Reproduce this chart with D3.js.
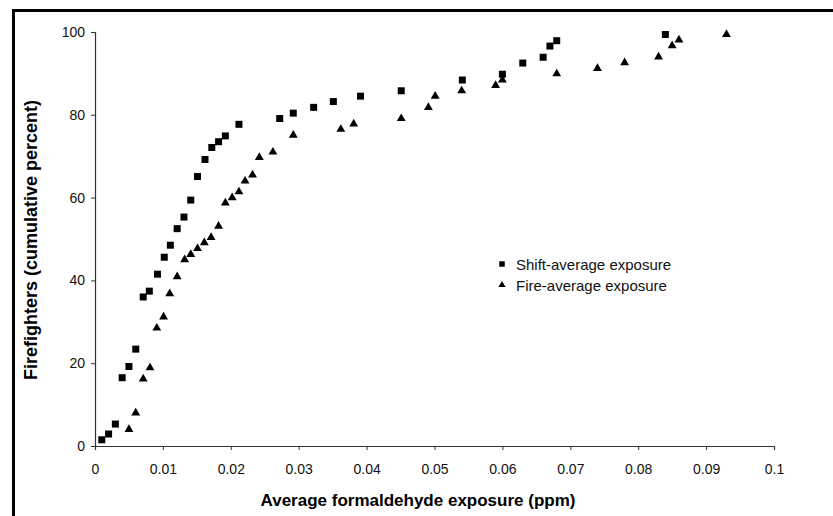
<!DOCTYPE html>
<html>
<head>
<meta charset="utf-8">
<script src="https://cdn.jsdelivr.net/npm/d3@7"></script>
<style>
  html, body { margin: 0; padding: 0; background: #fff; }
  svg { display: block; font-family: "Liberation Sans", Arial, sans-serif; }
</style>
</head>
<body>
<svg id="chart" width="833" height="516"></svg>
<script>
// ---- data ----
const shiftX = [0.001,0.002,0.003,0.004,0.005,0.006,0.0071,0.008,0.0092,0.0102,0.0111,0.0121,0.0131,0.0141,0.0151,0.0162,0.0172,0.0182,0.0192,0.0212,0.0272,0.0292,0.0322,0.0351,0.0391,0.0451,0.0541,0.060,0.063,0.066,0.067,0.068,0.084];
const shiftY = [1.5,2.9,5.3,16.5,19.2,23.4,36.0,37.4,41.5,45.6,48.5,52.5,55.3,59.4,65.1,69.2,72.1,73.5,74.9,77.7,79.1,80.4,81.8,83.2,84.5,85.8,88.4,89.8,92.5,93.9,96.6,97.9,99.4];
const fireX = [0.005,0.006,0.0071,0.0081,0.0091,0.0101,0.011,0.0121,0.0132,0.0141,0.0151,0.0161,0.0171,0.0182,0.0192,0.0202,0.0212,0.0221,0.0232,0.0242,0.0262,0.0292,0.0362,0.0381,0.0451,0.0491,0.0501,0.054,0.059,0.060,0.068,0.074,0.078,0.083,0.085,0.086,0.093];
const fireY = [4.0,8.0,16.2,18.9,28.5,31.2,36.8,40.9,45.0,46.3,47.7,49.1,50.4,53.1,58.7,60.0,61.4,64.0,65.5,69.7,71.0,75.1,76.5,77.8,79.1,81.8,84.5,85.8,87.1,88.4,89.9,91.2,92.6,94.0,96.7,98.1,99.4];
const xTicks = [0,0.01,0.02,0.03,0.04,0.05,0.06,0.07,0.08,0.09,0.1];
const yTicks = [0,20,40,60,80,100];
const seriesNames = ["Shift-average exposure","Fire-average exposure"];
const xTitle = "Average formaldehyde exposure (ppm)";
const yTitle = "Firefighters (cumulative percent)";

// ---- chart ----
const svg = d3.select("#chart");
const x = d3.scaleLinear().domain([0, 0.1]).range([95, 774]);
const y = d3.scaleLinear().domain([0, 100]).range([446, 32]);

// outer frame (right and bottom edges fall outside the view)
svg.append("rect").attr("x", 13.5).attr("y", 10.5).attr("width", 840).attr("height", 540)
  .attr("fill", "none").attr("stroke", "#000").attr("stroke-width", 3);

const xAxis = svg.append("g").attr("transform", "translate(0,446)")
  .call(d3.axisBottom(x).tickValues(xTicks).tickSize(4).tickPadding(12)
    .tickFormat(d => d === 0 ? "0" : String(+d.toFixed(2))));
const yAxis = svg.append("g").attr("transform", "translate(95,0)")
  .call(d3.axisLeft(y).tickValues(yTicks).tickSize(4).tickPadding(6));
[xAxis, yAxis].forEach(g => {
  g.select(".domain").attr("stroke", "#333").attr("stroke-width", 1.2);
  g.selectAll(".tick line").attr("stroke", "#333");
  g.selectAll(".tick text").attr("fill", "#111").attr("font-size", 14)
    .attr("font-family", "'Liberation Sans', Arial, sans-serif");
});
xAxis.selectAll(".tick text").attr("dy", "0.85em");

const sq = d3.symbol().type(d3.symbolSquare).size(49);
const tri = d3.symbol().type(d3.symbolTriangle).size(34);

svg.append("g").selectAll("path").data(fireX.map((v, i) => [v, fireY[i]]))
  .join("path").attr("d", tri)
  .attr("transform", d => `translate(${x(d[0])},${y(d[1])})`).attr("fill", "#000");
svg.append("g").selectAll("path").data(shiftX.map((v, i) => [v, shiftY[i]]))
  .join("path").attr("d", sq)
  .attr("transform", d => `translate(${x(d[0])},${y(d[1])})`).attr("fill", "#000");

// legend
const leg = svg.append("g");
leg.append("path").attr("d", d3.symbol().type(d3.symbolSquare).size(30))
  .attr("transform", "translate(502,264)");
leg.append("path").attr("d", d3.symbol().type(d3.symbolTriangle).size(22))
  .attr("transform", "translate(502,285)");
leg.selectAll("text").data(seriesNames).join("text")
  .attr("x", 516).attr("y", (d, i) => 265 + i * 21).attr("dy", "0.35em")
  .attr("font-size", 15).attr("fill", "#111").text(d => d);

// titles
svg.append("text").attr("x", 418).attr("y", 506).attr("text-anchor", "middle")
  .attr("font-size", 17).attr("font-weight", "bold").text(xTitle);
svg.append("text").attr("transform", "translate(37,240) rotate(-90)")
  .attr("text-anchor", "middle").attr("font-size", 18).attr("font-weight", "bold").text(yTitle);
</script>
</body>
</html>
